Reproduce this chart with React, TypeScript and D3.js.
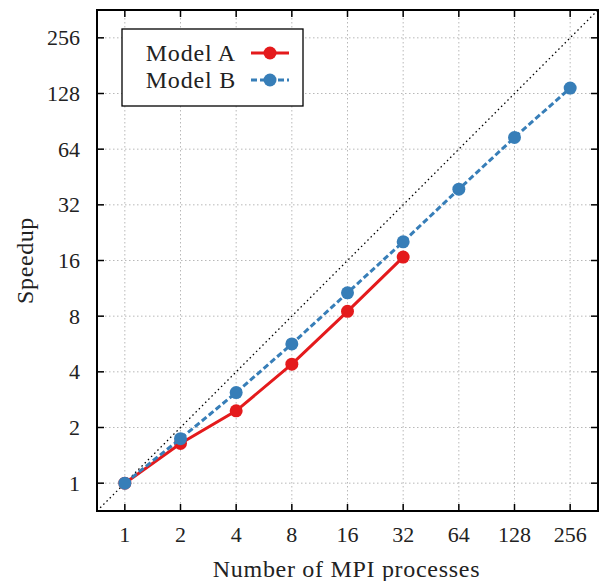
import React from 'react';
import * as d3 from 'd3';

// processes (x) and measured speedups (y)
const procsA = [1, 2, 4, 8, 16, 32];
const speedA = [1, 1.64, 2.46, 4.4, 8.5, 16.7];
const procsB = [1, 2, 4, 8, 16, 32, 64, 128, 256];
const speedB = [1, 1.74, 3.09, 5.66, 10.7, 20.2, 38.9, 74, 137];
const ticks = [1, 2, 4, 8, 16, 32, 64, 128, 256];

const width = 601;
const height = 581;
const margin = { top: 10, right: 3, bottom: 70, left: 97 };
const font = '"Liberation Serif", serif';
const red = '#e41a1c';
const blue = '#377eb8';

export default function App() {
  const x = d3.scaleLog().base(2)
    .domain([Math.SQRT1_2, 256 * Math.SQRT2])
    .range([margin.left, width - margin.right]);
  const y = d3.scaleLog().base(2)
    .domain([Math.SQRT1_2, 256 * Math.SQRT2])
    .range([height - margin.bottom, margin.top]);

  const line = d3.line<[number, number]>().x(d => x(d[0])).y(d => y(d[1]));
  const ptsA = procsA.map((p, i) => [p, speedA[i]] as [number, number]);
  const ptsB = procsB.map((p, i) => [p, speedB[i]] as [number, number]);

  const [x0, x1] = x.range();
  const [y0, y1] = y.range();
  const tl = 7;

  return (
    <div style={{ position: 'absolute', left: 0, top: 0 }}>
      <svg width={width} height={height} style={{ display: 'block', background: '#fff' }}>
        <defs>
          <clipPath id="plot">
            <rect x={x0} y={y1} width={x1 - x0} height={y0 - y1} />
          </clipPath>
        </defs>
        {/* grid */}
        {ticks.map(t => (
          <g key={'g' + t} stroke="#b8b8b8" strokeWidth={1} strokeDasharray="1.5,2.5">
            <line x1={x(t)} x2={x(t)} y1={y1} y2={y0} />
            <line x1={x0} x2={x1} y1={y(t)} y2={y(t)} />
          </g>
        ))}
        {/* ideal speedup */}
        <line clipPath="url(#plot)" x1={x(Math.SQRT1_2)} y1={y(Math.SQRT1_2)}
          x2={x(256 * Math.SQRT2)} y2={y(256 * Math.SQRT2)}
          stroke="#000" strokeWidth={1.3} strokeDasharray="1.5,3" />
        {/* series */}
        <path d={line(ptsA) || ''} fill="none" stroke={red} strokeWidth={3} />
        {ptsA.map((d, i) => <circle key={'a' + i} cx={x(d[0])} cy={y(d[1])} r={6.5} fill={red} />)}
        <path d={line(ptsB) || ''} fill="none" stroke={blue} strokeWidth={3} strokeDasharray="6,3" />
        {ptsB.map((d, i) => <circle key={'b' + i} cx={x(d[0])} cy={y(d[1])} r={6.5} fill={blue} />)}
        {/* ticks */}
        {ticks.map(t => (
          <g key={'t' + t} stroke="#000" strokeWidth={1.5}>
            <line x1={x(t)} x2={x(t)} y1={y0} y2={y0 - tl} />
            <line x1={x(t)} x2={x(t)} y1={y1} y2={y1 + tl} />
            <line x1={x0} x2={x0 + tl} y1={y(t)} y2={y(t)} />
            <line x1={x1} x2={x1 - tl} y1={y(t)} y2={y(t)} />
          </g>
        ))}
        <rect x={x0} y={y1} width={x1 - x0} height={y0 - y1} fill="none" stroke="#000" strokeWidth={2} />
        {/* tick labels */}
        {ticks.map(t => (
          <text key={'xl' + t} x={x(t)} y={y0 + 31} textAnchor="middle" fontFamily={font} fontSize={22} fill="#222">{t}</text>
        ))}
        {ticks.map(t => (
          <text key={'yl' + t} x={x0 - 17} y={y(t) + 7.5} textAnchor="end" fontFamily={font} fontSize={22} fill="#222">{t}</text>
        ))}
        {/* axis titles */}
        <text x={(x0 + x1) / 2 - 1} y={577} textAnchor="middle" fontFamily={font} fontSize={24} letterSpacing={0.7} fill="#222">Number of MPI processes</text>
        <text transform={`translate(33,${(y0 + y1) / 2}) rotate(-90)`} textAnchor="middle" fontFamily={font} fontSize={24} letterSpacing={0.6} fill="#222">Speedup</text>
        {/* legend */}
        <rect x={122} y={29} width={181} height={77} fill="#fff" stroke="#000" strokeWidth={1.3} />
        <text x={236} y={61} textAnchor="end" fontFamily={font} fontSize={24} letterSpacing={0.8} fill="#222">Model A</text>
        <line x1={251} x2={289} y1={53} y2={53} stroke={red} strokeWidth={3} />
        <circle cx={270} cy={53} r={6.5} fill={red} />
        <text x={236} y={88} textAnchor="end" fontFamily={font} fontSize={24} letterSpacing={0.8} fill="#222">Model B</text>
        <line x1={251} x2={289} y1={80} y2={80} stroke={blue} strokeWidth={3} strokeDasharray="6,3" />
        <circle cx={270} cy={80} r={6.5} fill={blue} />
      </svg>
    </div>
  );
}
